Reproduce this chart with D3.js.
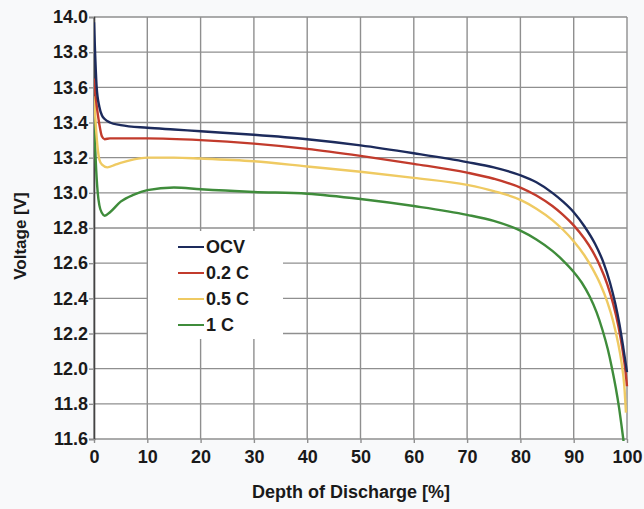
<!DOCTYPE html>
<html>
<head>
<meta charset="utf-8">
<script src="https://cdn.jsdelivr.net/npm/d3@7"></script>
<style>
  body { margin: 0; background: #f8f9fa; }
  svg { display: block; }
  .tick text { font-family: "Liberation Sans", Arial, sans-serif; font-weight: bold; font-size: 18px; fill: #1a1a1a; }
  .label { font-family: "Liberation Sans", Arial, sans-serif; font-weight: bold; fill: #1a1a1a; }
</style>
</head>
<body>
<svg id="chart" width="644" height="509"></svg>
<script>
// depth of discharge [%] / voltage [V] pairs
const ocv = [[0,13.97],[0.2,13.8],[0.5,13.6],[1,13.49],[1.5,13.44],[2,13.42],[3,13.4],[5,13.385],[10,13.37],[15,13.36],
  [20,13.35],[30,13.33],[40,13.305],[50,13.27],[60,13.225],[70,13.175],[75,13.145],[80,13.1],[83,13.06],[86,13.0],
  [88,12.95],[90,12.89],[92,12.81],[94,12.71],[95.5,12.61],[96.8,12.49],[97.8,12.37],[98.6,12.25],[99.3,12.12],[100,11.98]]
const c02 = [[0,13.65],[0.3,13.55],[0.7,13.45],[1,13.39],[1.5,13.32],[2,13.305],[3,13.31],[5,13.31],[10,13.31],
  [20,13.3],[30,13.28],[40,13.25],[50,13.21],[60,13.165],[70,13.115],[75,13.08],[80,13.03],[83,12.985],[86,12.925],
  [88,12.875],[90,12.815],[92,12.74],[93.5,12.67],[95,12.58],[96.3,12.48],[97.4,12.37],[98.4,12.24],[99.2,12.1],
  [99.7,11.99],[100,11.9]]
const c05 = [[0,13.55],[0.3,13.4],[0.7,13.25],[1,13.19],[1.5,13.16],[2.5,13.145],[4,13.16],[5,13.17],[7.5,13.19],
  [10,13.2],[15,13.2],[20,13.195],[30,13.18],[40,13.15],[50,13.12],[60,13.085],[70,13.045],[75,13.01],[80,12.96],
  [83,12.91],[86,12.845],[88,12.79],[90,12.725],[92,12.645],[93.5,12.57],[95,12.48],[96.3,12.38],[97.4,12.27],
  [98.3,12.15],[99,12.03],[99.5,11.9],[99.8,11.75]]
const c1 = [[0,13.45],[0.3,13.2],[0.7,13.0],[1,12.93],[1.5,12.885],[2,12.87],[3,12.89],[5,12.95],[7.5,12.99],
  [10,13.015],[15,13.03],[20,13.02],[30,13.005],[40,12.995],[50,12.965],[60,12.925],[70,12.875],[75,12.84],[80,12.785],
  [83,12.735],[86,12.67],[88,12.615],[90,12.55],[91.5,12.49],[93,12.41],[94.3,12.32],[95.4,12.22],[96.4,12.11],
  [97.2,12.0],[97.9,11.89],[98.5,11.78],[99,11.67],[99.3,11.6],[99.5,11.55]]

const seriesNames = ["OCV", "0.2 C", "0.5 C", "1 C"]
const seriesColors = ["#1d2b5c", "#c23b2c", "#efca62", "#3f8c3b"]
const xTicks = [0, 10, 20, 30, 40, 50, 60, 70, 80, 90, 100]
const yTicks = [11.6, 11.8, 12.0, 12.2, 12.4, 12.6, 12.8, 13.0, 13.2, 13.4, 13.6, 13.8, 14.0]

const svg = d3.select("#chart")
const plotLeft = 94, plotRight = 627, plotTop = 17, plotBottom = 439

const x = d3.scaleLinear().domain([0, 100]).range([plotLeft, plotRight])
const y = d3.scaleLinear().domain([11.6, 14.0]).range([plotBottom, plotTop])

svg.append("rect")
  .attr("x", plotLeft).attr("y", plotTop)
  .attr("width", plotRight - plotLeft).attr("height", plotBottom - plotTop)
  .attr("fill", "#ffffff")

// grid
const grid = svg.append("g").attr("stroke", "#8f8f8f").attr("stroke-width", 1.4)
grid.selectAll(".hg").data(yTicks).join("line")
  .attr("x1", plotLeft).attr("x2", plotRight)
  .attr("y1", d => y(d)).attr("y2", d => y(d))
grid.selectAll(".vg").data(xTicks).join("line")
  .attr("x1", d => x(d)).attr("x2", d => x(d))
  .attr("y1", plotTop).attr("y2", plotBottom)

// axes
const yAxis = svg.append("g")
  .attr("transform", `translate(${plotLeft},0)`)
  .call(d3.axisLeft(y).tickValues(yTicks).tickFormat(d3.format(".1f")).tickSize(5).tickPadding(1))
yAxis.select(".domain").attr("stroke", "#444").attr("stroke-width", 1.6)
yAxis.selectAll(".tick line").attr("stroke", "#8f8f8f").attr("stroke-width", 1.4)

const xAxis = svg.append("g")
  .attr("transform", `translate(0,${plotBottom})`)
  .call(d3.axisBottom(x).tickValues(xTicks).tickSize(4).tickPadding(7))
xAxis.select(".domain").remove()
xAxis.selectAll(".tick line").attr("stroke", "#8f8f8f").attr("stroke-width", 1.4)

// legend box hides the grid behind it
svg.append("rect")
  .attr("x", 148).attr("y", 231)
  .attr("width", 135).attr("height", 108)
  .attr("fill", "#ffffff")

svg.append("defs").append("clipPath").attr("id", "plotclip")
  .append("rect")
  .attr("x", plotLeft).attr("y", plotTop - 2)
  .attr("width", plotRight - plotLeft + 2).attr("height", plotBottom - plotTop + 4)

const line = d3.line()
  .x(d => x(d[0]))
  .y(d => y(d[1]))
  .curve(d3.curveMonotoneX)

const allSeries = [ocv, c02, c05, c1]
svg.append("g").attr("clip-path", "url(#plotclip)")
  .selectAll("path")
  .data(allSeries.slice().reverse())
  .join("path")
  .attr("d", line)
  .attr("fill", "none")
  .attr("stroke", (d, i) => seriesColors[3 - i])
  .attr("stroke-width", 2.4)

// legend
const legend = svg.append("g")
seriesNames.forEach((name, i) => {
  const ly = 247 + i * 26
  legend.append("line")
    .attr("x1", 178).attr("x2", 204)
    .attr("y1", ly).attr("y2", ly)
    .attr("stroke", seriesColors[i])
    .attr("stroke-width", 2)
  legend.append("text")
    .attr("class", "label")
    .attr("x", 206).attr("y", ly)
    .attr("dy", "0.36em")
    .attr("font-size", "18px")
    .text(name)
})

svg.append("text")
  .attr("class", "label")
  .attr("x", 351).attr("y", 498)
  .attr("text-anchor", "middle")
  .attr("font-size", "18px")
  .text("Depth of Discharge [%]")

svg.append("text")
  .attr("class", "label")
  .attr("transform", "translate(26,236) rotate(-90)")
  .attr("text-anchor", "middle")
  .attr("font-size", "17px")
  .text("Voltage [V]")
</script>
</body>
</html>
